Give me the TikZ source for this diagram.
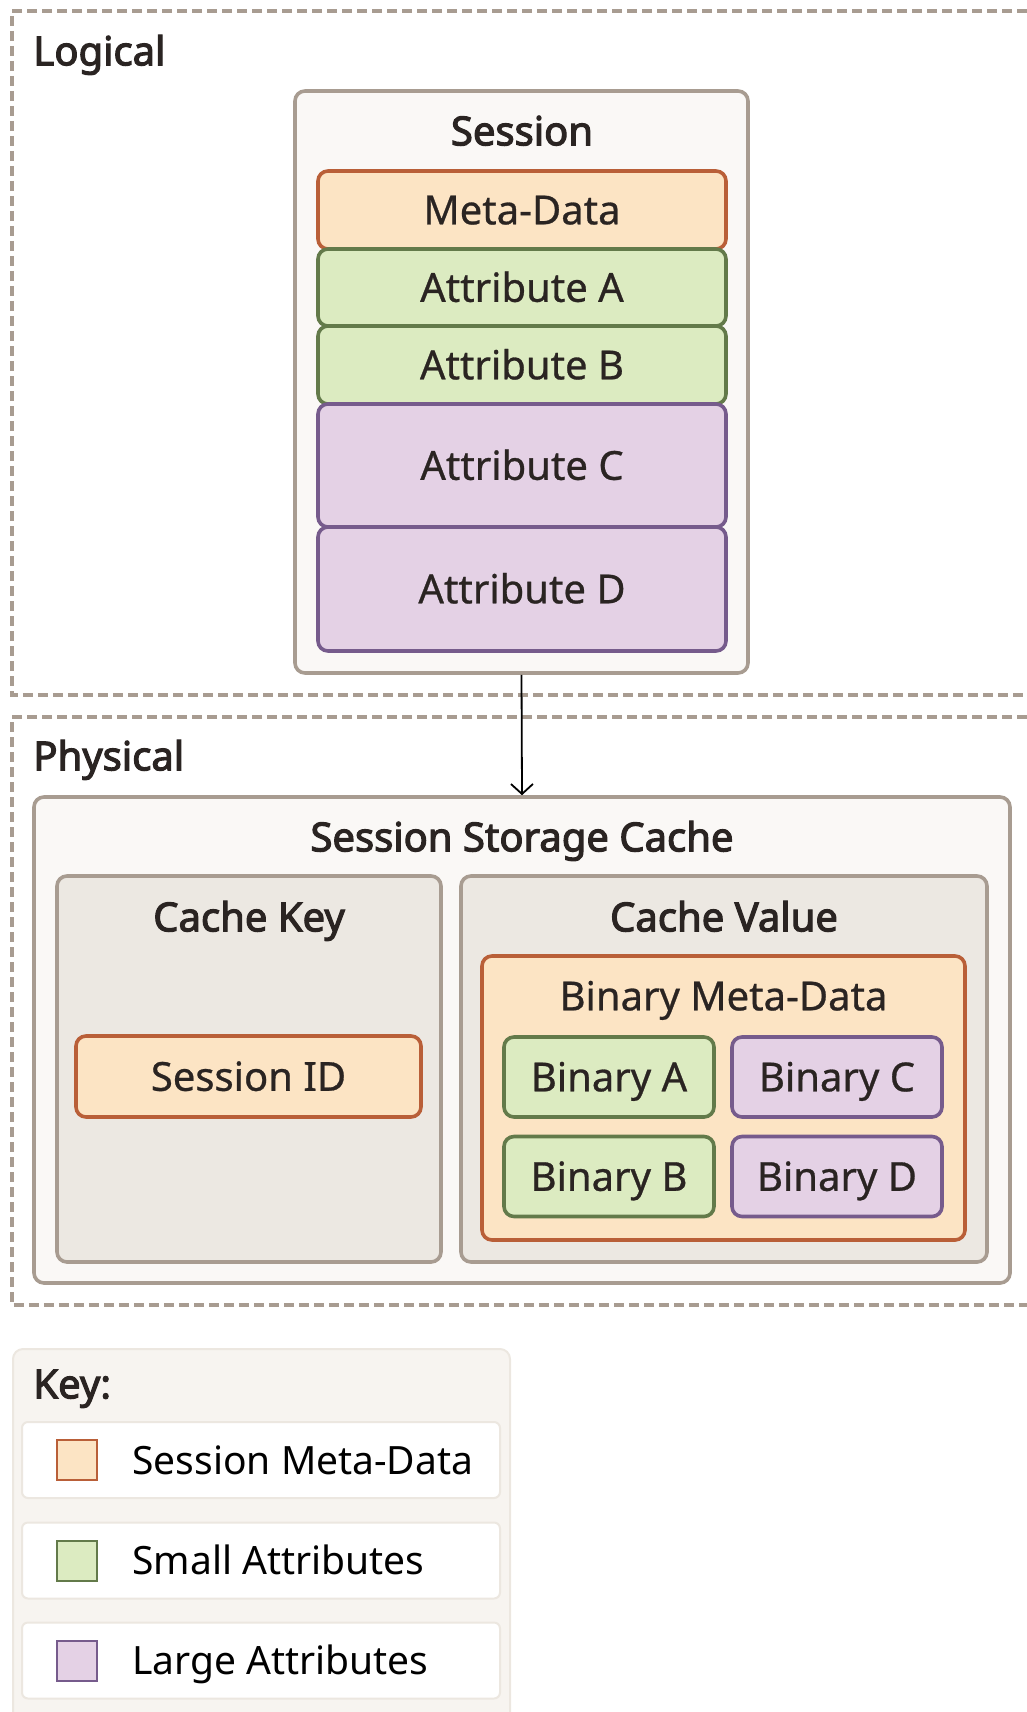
\documentclass[tikz,border=0pt]{standalone}
\usepackage{fontspec}
\setmainfont{Noto Sans}[FakeBold=0.7, AutoFakeBold=2.8]
\newfontfamily\keyfont{Noto Sans}
\usetikzlibrary{arrows.meta}

\definecolor{frame}{HTML}{A89C91}
\definecolor{ink}{HTML}{2A2422}
\definecolor{metafill}{HTML}{FCE4C4}
\definecolor{metaline}{HTML}{B95F38}
\definecolor{smallfill}{HTML}{DCEBC1}
\definecolor{smallline}{HTML}{637A4A}
\definecolor{largefill}{HTML}{E4D1E5}
\definecolor{largeline}{HTML}{765B8C}
\definecolor{paper}{HTML}{FAF8F6}
\definecolor{stone}{HTML}{ECE8E2}
\definecolor{keyback}{HTML}{F7F4F0}
\definecolor{keyline}{HTML}{ECE7E0}

\begin{document}
\begin{tikzpicture}[x=0.5pt, y=-0.5pt, text=ink,
  font=\fontsize{20}{24}\selectfont,
  every node/.style={text height=14.3pt, text depth=0pt},
  dims/.style 2 args={minimum width=#1*0.5pt, minimum height=#2*0.5pt},
  box/.style={draw, rounded corners=5pt, line width=1.8pt, inner sep=0pt},
  outerbox/.style={box, draw=frame, fill=paper},
  stonebox/.style={box, draw=frame, fill=stone},
  metabox/.style={box, draw=metaline, fill=metafill},
  smallbox/.style={box, draw=smallline, fill=smallfill},
  largebox/.style={box, draw=largeline, fill=largefill},
  title/.style={font=\fontsize{20}{24}\selectfont\bfseries},
  zone/.style={draw=frame, line width=2pt, dash pattern=on 5pt off 2.5pt}]
\useasboundingbox (0,0) rectangle (1027,1712);
%% dashed zones
\draw[zone] (1027,11) -- (12,11) -- (12,695) -- (1027,695);
\draw[zone] (1027,717) -- (12,717) -- (12,1305) -- (1027,1305);
\node[title, anchor=west, inner sep=0pt] (logical) at (33,51) {Logical};
\node[title, anchor=west, inner sep=0pt] (physical) at (33,756) {Physical};
%
% logical session
\node[outerbox, dims={453}{582}] (session) at (521.5,382) {};
\node[title] (sessiontitle) at (522,131) {Session};
\node[metabox, dims={408}{78}] (meta) at (522,210) {Meta-Data};
\node[smallbox, dims={408}{77}] (attrA) at (522,287.5) {Attribute A};
\node[smallbox, dims={408}{78}] (attrB) at (522,365) {Attribute B};
\node[largebox, dims={408}{123}] (attrC) at (522,465.5) {Attribute C};
\node[largebox, dims={408}{124}] (attrD) at (522,589) {Attribute D};
%
% physical storage
\node[outerbox, dims={976}{486}] (cache) at (522,1040) {};
\node[title] (cachetitle) at (522,837) {Session Storage Cache};
\node[stonebox, dims={384}{386}] (cachekey) at (249,1069) {};
\node[title] (keytitle) at (249,917) {Cache Key};
\node[metabox, dims={345}{81}] (sessionid) at (248.5,1076.5) {Session ID};
\node[stonebox, dims={526}{386}] (cachevalue) at (724,1069) {};
\node[title] (valuetitle) at (724,917) {Cache Value};
\node[metabox, dims={483}{284}] (binmeta) at (723.5,1098) {};
\node (binmetatitle) at (723.5,996) {Binary Meta-Data};
\foreach\n/\x/\y/\s in {A/609/1077/smallbox, B/609/1176.5/smallbox,
                        C/837/1077/largebox, D/837/1176.5/largebox}
  {
  \node[\s, dims={210}{80}] (bin\n) at (\x,\y) {Binary \n};
  }
%
\draw[-{Straight Barb[length=5pt,width=11pt]}, line width=0.9pt, black] (session.south) -- (cache.north);
%
% key
\fill[keyback, draw=keyline, line width=1pt, rounded corners=5pt] (13,1349) rectangle (510,1740);
\node[title, anchor=west, inner sep=0pt] (keytext) at (33,1384) {Key:};
\foreach\y/\fc/\lc/\t [count=\i] in {1460/metafill/metaline/Session Meta-Data,
                                      1560.5/smallfill/smallline/Small Attributes,
                                      1660.5/largefill/largeline/Large Attributes}
  {
  \node[draw=keyline, fill=white, line width=1pt, rounded corners=3pt, dims={478}{76}] (row\i) at (261,\y) {};
  \node[draw=\lc, fill=\fc, line width=1pt, dims={40}{40}, inner sep=0pt] (swatch\i) at (77,\y) {};
  \node[anchor=west, inner sep=0pt, text=black, font=\keyfont\fontsize{19.5}{24}\selectfont] (label\i) at (132,\y) {\t};
  }
\end{tikzpicture}
\end{document}
